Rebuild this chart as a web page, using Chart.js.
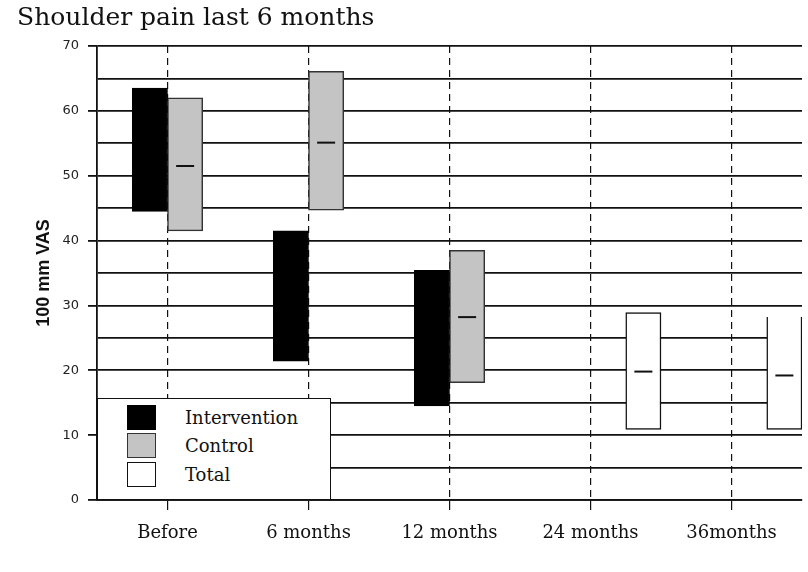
<!DOCTYPE html>
<html lang="en">
<head>
    <meta charset="UTF-8">
    <title>Shoulder pain last 6 months</title>
    <style>
        body { margin: 0; background: #fff; }
        .chart-container { position: relative; width: 808px; height: 572px; }
        #legend {
            position: absolute;
            left: 97px; top: 398px;
            width: 234px; height: 102px;
            background: #fff;
            border: 1.5px solid #111;
            box-sizing: border-box;
            font-family: "DejaVu Serif", serif;
            font-size: 18px;
            color: #111;
        }
        #legend .item { position: absolute; left: 29px; height: 25px; display: flex; align-items: center; }
        #legend .swatch { width: 29px; height: 25px; box-sizing: border-box; margin-right: 29px; }
    </style>
    <script src="https://cdn.jsdelivr.net/npm/chart.js"></script>
</head>
<body>
    <div class="chart-container">
        <canvas id="vasChart" width="808" height="572"></canvas>
        <div id="legend"></div>
    </div>

    <script>
        // data (100 mm VAS, low/high of each box)
        const categories = ['Before', '6 months', '12 months', '24 months', '36months'];
        const interventionRange = [[44.5, 63.5], [21.4, 41.5], [14.5, 35.4], null, null];
        const controlRange = [[41.5, 62.0], [44.7, 66.1], [18.1, 38.5], null, null];
        const controlMedian = [51.5, 55.1, 28.2, null, null];
        const totalRange = [null, null, null, [10.9, 28.9], [10.9, 28.2]];
        const totalMedian = [null, null, null, 19.8, 19.2];
        const yTicks = [0, 10, 20, 30, 40, 50, 60, 70];

        // short median marks drawn on top of the boxes
        const medianPlugin = {
            id: 'medians',
            afterDatasetsDraw(chart) {
                const ctx = chart.ctx;
                const yScale = chart.scales.y;
                chart.data.datasets.forEach((ds, i) => {
                    if (!ds.medians) return;
                    const meta = chart.getDatasetMeta(i);
                    ds.medians.forEach((m, j) => {
                        if (m === null) return;
                        const bar = meta.data[j];
                        const y = yScale.getPixelForValue(m);
                        ctx.save();
                        ctx.strokeStyle = '#111';
                        ctx.lineWidth = 2;
                        ctx.beginPath();
                        ctx.moveTo(bar.x - 9, y);
                        ctx.lineTo(bar.x + 9, y);
                        ctx.stroke();
                        ctx.restore();
                    });
                });
            }
        };

        const chart = new Chart(document.getElementById('vasChart'), {
            type: 'bar',
            data: {
                labels: categories,
                datasets: [
                    {
                        // empty slot so the groups sit like the original
                        label: '',
                        data: categories.map(() => null),
                        hideInLegend: true
                    },
                    {
                        label: 'Intervention',
                        data: interventionRange,
                        backgroundColor: '#000',
                        borderColor: '#000',
                        borderWidth: 1,
                        borderSkipped: false
                    },
                    {
                        label: 'Control',
                        data: controlRange,
                        medians: controlMedian,
                        backgroundColor: '#c4c4c4',
                        borderColor: '#333',
                        borderWidth: 1.5,
                        borderSkipped: false
                    },
                    {
                        label: 'Total',
                        data: totalRange,
                        medians: totalMedian,
                        backgroundColor: '#fff',
                        borderColor: '#111',
                        borderWidth: 1.5,
                        borderSkipped: ctx => ctx.dataIndex === 4 ? 'end' : false
                    }
                ]
            },
            options: {
                responsive: false,
                animation: false,
                layout: { padding: { left: 17, right: 6, top: 0, bottom: 0 } },
                categoryPercentage: 1.0,
                barPercentage: 1.0,
                plugins: {
                    legend: { display: false },
                    tooltip: { enabled: false },
                    title: {
                        display: true,
                        text: 'Shoulder pain last 6 months',
                        align: 'start',
                        color: '#111',
                        font: { family: '"DejaVu Serif", serif', size: 25, weight: 'normal' },
                        padding: { top: 3, bottom: 13 }
                    }
                },
                scales: {
                    x: {
                        afterFit(scale) { scale.height = 72; },
                        grid: {
                            offset: false,
                            color: '#111',
                            lineWidth: 1.2,
                            tickLength: 10,
                            tickBorderDash: []
                        },
                        border: { display: true, color: '#111', width: 1.8, dash: [7, 5] },
                        ticks: {
                            color: '#111',
                            padding: 13,
                            font: { family: '"DejaVu Serif", serif', size: 18 }
                        }
                    },
                    y: {
                        min: 0,
                        max: 70,
                        afterFit(scale) { scale.width = 80; },
                        ticks: {
                            stepSize: 5,
                            padding: 9,
                            color: '#222',
                            font: { family: '"DejaVu Sans", sans-serif', size: 13 },
                            callback: v => yTicks.includes(v) ? v : ''
                        },
                        grid: {
                            color: '#111',
                            lineWidth: 1.8,
                            tickLength: 9,
                            tickColor: ctx => yTicks.includes(ctx.tick.value) ? '#111' : 'rgba(0,0,0,0)'
                        },
                        border: { display: true, color: '#111', width: 1.8 },
                        title: {
                            display: true,
                            text: '100 mm VAS',
                            color: '#111',
                            font: { family: '"Liberation Sans", Arial, sans-serif', size: 18, weight: 'bold' },
                            padding: { top: 16, bottom: 0 }
                        }
                    }
                }
            },
            plugins: [medianPlugin]
        });

        // legend box inside the plot, bottom left
        const legendEl = document.getElementById('legend');
        const legendTops = [6, 34, 63];
        chart.data.datasets.filter(ds => !ds.hideInLegend).forEach((ds, i) => {
            const item = document.createElement('div');
            item.className = 'item';
            item.style.top = legendTops[i] + 'px';
            const sw = document.createElement('span');
            sw.className = 'swatch';
            sw.style.background = ds.backgroundColor;
            sw.style.border = '1.5px solid ' + ds.borderColor;
            item.appendChild(sw);
            item.appendChild(document.createTextNode(ds.label));
            legendEl.appendChild(item);
        });
    </script>
</body>
</html>
